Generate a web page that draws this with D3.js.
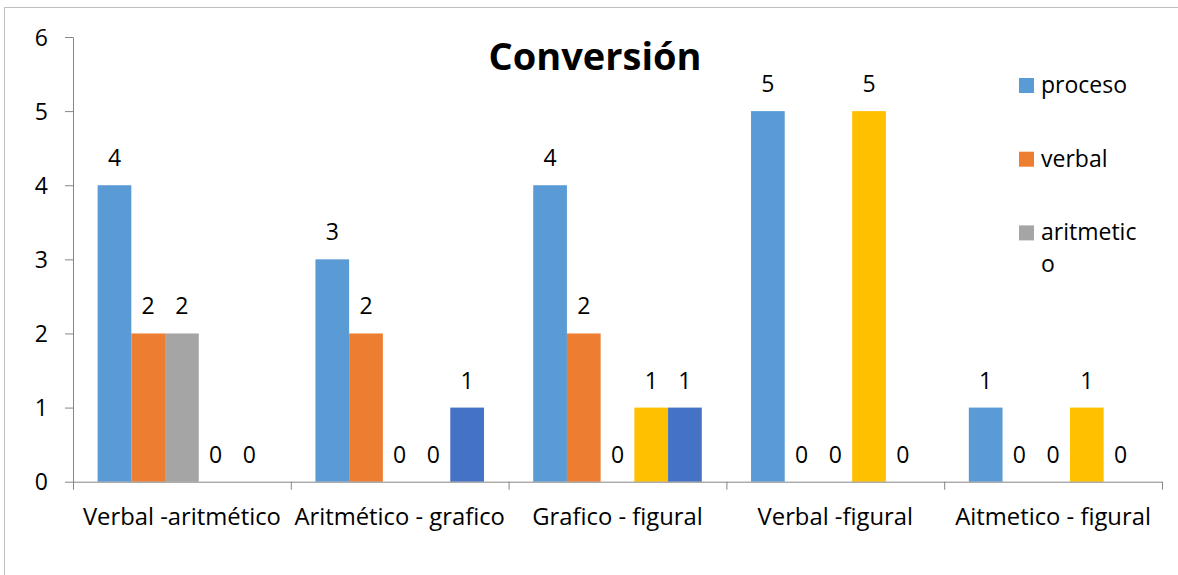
<!DOCTYPE html>
<html>
<head>
<meta charset="utf-8">
<script src="https://cdn.jsdelivr.net/npm/d3@7"></script>
<style>
  html, body { margin: 0; padding: 0; background: #fff; }
  svg { display: block; }
  text { font-family: "Open Sans", "Noto Sans", sans-serif; fill: #000; }
</style>
</head>
<body>
<svg id="chart" width="1178" height="575"></svg>
<script>
// Conversion pairs shown along the x axis
const categories = ["Verbal -aritmético", "Aritmético - grafico", "Grafico - figural", "Verbal -figural", "Aitmetico - figural"];
// Series (one bar each per category)
const seriesNames = ["proceso", "verbal", "aritmetico", "grafico", "figural"];
const seriesColors = ["#5B9BD5", "#ED7D31", "#A5A5A5", "#FFC000", "#4472C4"];
// Counts per series, in category order
const proceso    = [4, 3, 4, 5, 1];
const verbal     = [2, 2, 2, 0, 0];
const aritmetico = [2, 0, 0, 0, 0];
const grafico    = [0, 0, 1, 5, 1];
const figural    = [0, 1, 1, 0, 0];
const yTicks = [0, 1, 2, 3, 4, 5, 6];
// Legend entries that fit in the legend box
const legendLines = [["proceso"], ["verbal"], ["aritmetic", "o"]];

const seriesValues = [proceso, verbal, aritmetico, grafico, figural];

const svg = d3.select("#chart");
const W = 1178, H = 575;
const plotLeft = 73, plotRight = 1162, plotTop = 37, plotBottom = 481.7;
const fontSize = 23;

// chart area frame
svg.append("rect")
  .attr("x", 4.5).attr("y", 7.5)
  .attr("width", W + 10).attr("height", H + 10)
  .attr("fill", "none").attr("stroke", "#BFBFBF").attr("stroke-width", 1);

const x = d3.scaleBand().domain(categories).range([plotLeft, plotRight]).padding(0);
const xs = d3.scaleBand().domain(seriesNames).range([0, x.bandwidth()])
  .paddingInner(0).paddingOuter(0.73);
const y = d3.scaleLinear().domain([0, 6]).range([plotBottom, plotTop]);

// y axis
const yAxis = svg.append("g")
  .attr("transform", `translate(${plotLeft},0)`)
  .call(d3.axisLeft(y).tickValues(yTicks).tickFormat(d3.format("d"))
    .tickSize(8).tickSizeOuter(0).tickPadding(17));
yAxis.select(".domain").attr("stroke", "#868686");
yAxis.selectAll(".tick line").attr("stroke", "#868686");
yAxis.selectAll(".tick text")
  .attr("font-size", fontSize).attr("font-family", null)
  .attr("fill", "#000").attr("dy", "0.36em");

// bars
const rows = [];
categories.forEach((c, ci) => {
  seriesNames.forEach((s, si) => {
    rows.push({ cat: c, series: s, value: seriesValues[si][ci], color: seriesColors[si] });
  });
});

svg.append("g").selectAll("rect").data(rows.filter(d => d.value > 0)).join("rect")
  .attr("x", d => x(d.cat) + xs(d.series))
  .attr("y", d => y(d.value))
  .attr("width", xs.bandwidth())
  .attr("height", d => y(0) - y(d.value))
  .attr("fill", d => d.color);

// x axis with ticks at category boundaries
const xAxisScale = d3.scaleLinear().domain([0, categories.length]).range([plotLeft, plotRight]);
const xAxis = svg.append("g")
  .attr("transform", `translate(0,${plotBottom})`)
  .call(d3.axisBottom(xAxisScale).ticks(categories.length).tickFormat("")
    .tickSize(8).tickSizeOuter(0));
xAxis.select(".domain").attr("stroke", "#868686");
xAxis.selectAll(".tick line").attr("stroke", "#868686");

// category labels
svg.append("g").selectAll("text").data(categories).join("text")
  .attr("x", d => x(d) + x.bandwidth() / 2)
  .attr("y", 525)
  .attr("text-anchor", "middle")
  .attr("font-size", 23.8)
  .text(d => d);

// value labels
svg.append("g").selectAll("text").data(rows).join("text")
  .attr("x", d => x(d.cat) + xs(d.series) + xs.bandwidth() / 2)
  .attr("y", d => y(d.value) - 19)
  .attr("text-anchor", "middle")
  .attr("font-size", fontSize)
  .text(d => d.value);

// title
svg.append("text")
  .attr("x", 595).attr("y", 70)
  .attr("text-anchor", "middle")
  .attr("font-size", 38).attr("font-weight", "bold")
  .text("Conversión");

// legend
const lg = svg.append("g").selectAll("g").data(legendLines).join("g")
  .attr("transform", (d, i) => `translate(1019,${78 + i * 73.7})`);
lg.append("rect").attr("width", 15).attr("height", 15)
  .attr("fill", (d, i) => seriesColors[i]);
lg.append("text")
  .attr("x", 22).attr("y", 15)
  .attr("font-size", fontSize)
  .selectAll("tspan").data(d => d).join("tspan")
  .attr("x", 22).attr("dy", (d, i) => i === 0 ? 0 : 32)
  .text(d => d);
</script>
</body>
</html>
